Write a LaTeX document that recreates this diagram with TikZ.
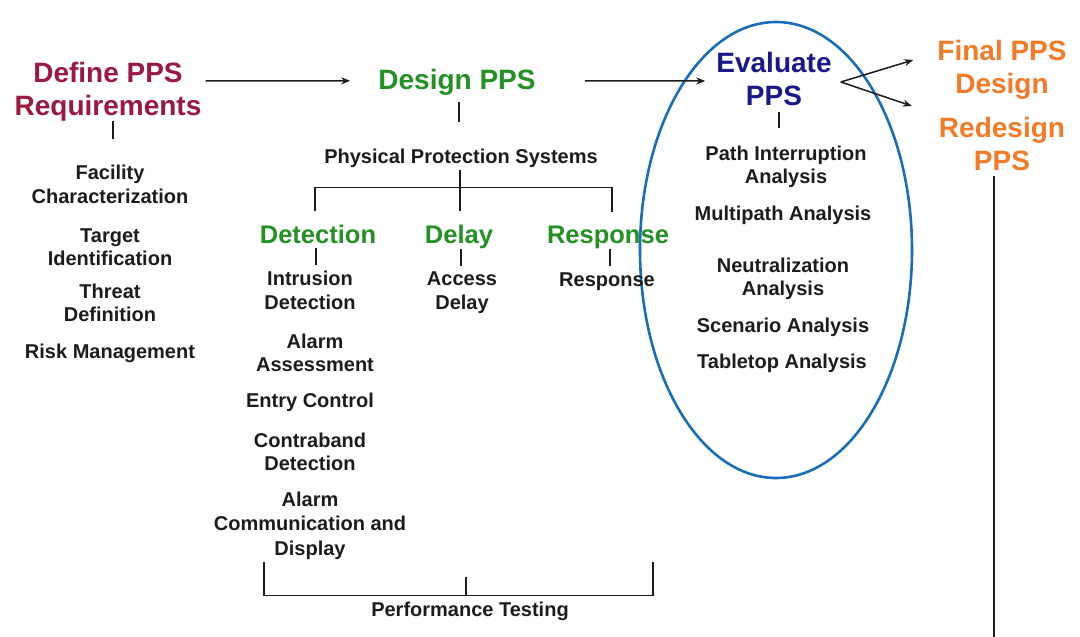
\documentclass[tikz,border=0pt]{standalone}
\usepackage{fontspec}
\setmainfont{Liberation Sans}
\usetikzlibrary{arrows.meta,calc}
\definecolor{defred}{RGB}{155,25,65}
\definecolor{grn}{RGB}{35,145,35}
\definecolor{navyc}{RGB}{25,25,140}
\definecolor{orng}{RGB}{245,122,40}
\definecolor{ellblue}{RGB}{25,110,185}
\definecolor{txt}{RGB}{28,28,28}
\begin{document}
\begin{tikzpicture}[x=1pt,y=-1pt,
  body/.style={font=\fontsize{20}{23.5}\selectfont\bfseries, text=txt, align=center, inner sep=0pt},
  head/.style={font=\fontsize{28}{33}\selectfont\bfseries, align=center, inner sep=0pt},
  sub/.style={font=\fontsize{25.5}{30}\selectfont\bfseries, text=grn, inner sep=0pt, anchor=base},
  conn/.style={line width=1.5pt, draw=txt},
  arr/.style={conn, -{Stealth[length=9pt,width=7pt]}}]
\useasboundingbox (0,0) rectangle (1080,637);
\fill[white] (0,0) rectangle (1080,637);

% ellipse around evaluation
\draw[ellblue, line width=2.6pt] (776,250) ellipse [x radius=136, y radius=228];

% headings
\node[head, text=defred] (def) at (108,92) {Define PPS\\Requirements};
\node[head, text=grn, anchor=base] (des) at (457,89) {Design PPS};
\node[head, text=navyc] (eva) at (774,79) {Evaluate\\PPS};
\node[head, text=orng] (fin) at (1002,70) {Final PPS\\Design};
\node[head, text=orng] (red) at (1002,144) {Redesign\\PPS};

% define column
\node[body] (fac) at (110,184.5) {Facility\\Characterization};
\node[body] (tgt) at (110,247) {Target\\Identification};
\node[body] (thr) at (110,303) {Threat\\Definition};
\node[body, anchor=base] (risk) at (110,358) {Risk Management};

% design column
\node[body, anchor=base] (phys) at (461,163) {Physical Protection Systems};
\node[sub] (det) at (318,243) {Detection};
\node[sub] (del) at (459,243) {Delay};
\node[sub] (rsp) at (608,243) {Response};
\node[body] (intr) at (310,290.5) {Intrusion\\Detection};
\node[body] (acc) at (462,292.5) {Access\\Delay};
\node[body, anchor=base] (rspb) at (607,286) {Response};
\node[body] (alas) at (315,353) {Alarm\\Assessment};
\node[body, anchor=base] (entry) at (310,407) {Entry Control};
\node[body] (contra) at (310,452) {Contraband\\Detection};
\node[body, text depth=0pt, font=\fontsize{20}{24.5}\selectfont\bfseries] (acd) at (310,523.3) {Alarm\\Communication and\\Display};
\node[body, anchor=base] (perf) at (470,616) {Performance Testing};

% evaluate column
\node[body] (path) at (786,167) {Path Interruption\\Analysis};
\node[body, anchor=base] (multi) at (783,220) {Multipath Analysis};
\node[body] (neut) at (783,279) {Neutralization\\Analysis};
\node[body, anchor=base] (scen) at (783,332) {Scenario Analysis};
\node[body, anchor=base] (table) at (782,368) {Tabletop Analysis};

% main arrows
\draw[arr] ($(def.east)+(4,-11)$) -- ($(des.west)+(-28,-1)$);
\draw[arr] ($(des.east)+(49,-1)$) -- ($(eva.west)+(-11,2)$);
\draw[arr] ($(eva.east)+(9,3)$) -- ($(fin.west)+(-24,-10)$);
\draw[arr] ($(eva.east)+(9,3)$) -- ($(red.west)+(-27,-38)$);

% ticks
\draw[conn] ($(fac.north)+(3,-44)$) -- ++(0,18);
\draw[conn] ($(phys.north)+(-2,-46)$) -- ++(0,20);
\draw[conn] ($(det.north)+(-3,-13)$) |- ($(phys.south)+(0,20)$) -| ($(rsp.north)+(4,-13)$);
\draw[conn] ($(phys.south)+(-1,3)$) -- ($(del.north)+(1,-13)$);
\draw[conn] ($(intr.north)+(6,-6)$) -- ++(0,-17);
\draw[conn] ($(acc.north)+(-1,-6)$) -- ++(0,-17);
\draw[conn] ($(rspb.north)+(3,-6)$) -- ++(0,-17);
\draw[conn] ($(path.north)+(-7,-18)$) -- ++(0,-16);

% performance testing bracket
\draw[conn] ($(perf.north)+(-206,-39)$) -- ($(perf.north)+(-206,-6)$) -- ($(perf.north)+(183,-6)$) -- ($(perf.north)+(183,-39)$);
\draw[conn] ($(perf.north)+(-4,-6)$) -- ++(0,-18);

% feedback line from redesign
\coordinate (fb) at (994,640);
\draw[conn] ($(red.south)+(-8,5)$) -- (fb);
\end{tikzpicture}
\end{document}
